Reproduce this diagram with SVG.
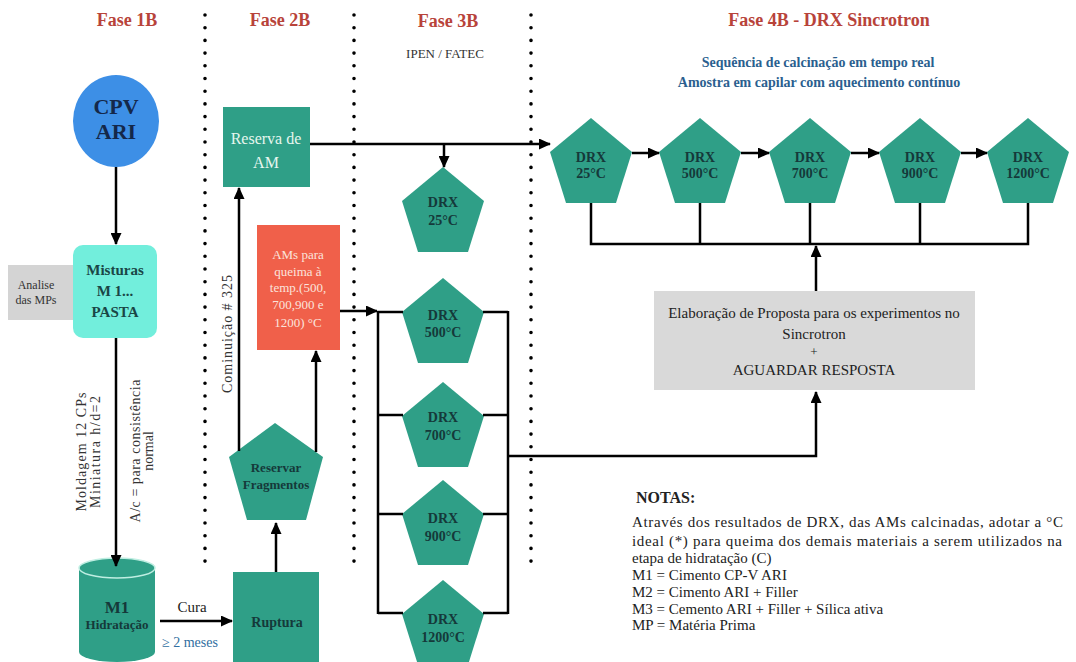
<svg xmlns="http://www.w3.org/2000/svg" width="1076" height="662" viewBox="0 0 1076 662">
<style>
text{font-family:"Liberation Serif","Times New Roman",serif;}
.title{font-size:18px;font-weight:bold;fill:#b8433a;text-anchor:middle;}
.blue{font-size:14px;font-weight:bold;fill:#2b5f8f;text-anchor:middle;}
.drx{font-size:14px;font-weight:bold;fill:#15393a;text-anchor:middle;}
.teal{fill:#2f9f87;}
.ln{stroke:#000;stroke-width:2.5;fill:none;}
.arr{stroke:#000;stroke-width:2.5;fill:none;marker-end:url(#ah);}
.dot{stroke:#000;stroke-width:3.6;stroke-linecap:round;stroke-dasharray:0 12.7;fill:none;}
.note{font-size:15px;fill:#222;}
.rot{font-size:14px;fill:#333;text-anchor:middle;}
</style>
<defs>
<marker id="ah" markerUnits="userSpaceOnUse" markerWidth="12" markerHeight="11" refX="11" refY="5.5" orient="auto">
<path d="M0,0 L12,5.5 L0,11 z" fill="#000"/>
</marker>
<path id="pent" d="M0,0 L41,34 L25,85 L-25,85 L-41,34 z"/>
</defs>
<rect width="1076" height="662" fill="#fff"/>

<g id="titles">
<text class="title" x="127" y="26">Fase 1B</text>
<text class="title" x="280" y="26">Fase 2B</text>
<text class="title" x="448" y="27">Fase 3B</text>
<text x="445" y="58" font-size="13" fill="#333" text-anchor="middle">IPEN / FATEC</text>
<text class="title" x="829" y="26">Fase 4B - DRX Sincrotron</text>
<text class="blue" x="818" y="67">Sequência de calcinação em tempo real</text>
<text class="blue" x="819" y="87">Amostra em capilar com aquecimento contínuo</text>
</g>

<g id="dividers">
<line class="dot" x1="205" y1="15" x2="205" y2="566"/>
<line class="dot" x1="354" y1="15" x2="354" y2="566"/>
<line class="dot" x1="531" y1="15" x2="531" y2="566"/>
</g>

<g id="cpv">
<ellipse cx="116" cy="121" rx="43" ry="46" fill="#3d8fe6"/>
<text x="116" y="114" font-size="22" font-weight="bold" fill="#14284a" text-anchor="middle">CPV</text>
<text x="116" y="139" font-size="22" font-weight="bold" fill="#14284a" text-anchor="middle">ARI</text>
</g>

<g id="analise">
<rect x="8" y="265" width="66" height="55" fill="#d4d4d4"/>
<text x="36" y="289" font-size="12" fill="#333" text-anchor="middle">Analise</text>
<text x="36" y="304" font-size="12" fill="#333" text-anchor="middle">das MPs</text>
</g>

<g id="misturas">
<rect x="73" y="245" width="84" height="93" rx="10" fill="#72eedc"/>
<text x="115" y="275" font-size="15" font-weight="bold" fill="#1a4646" text-anchor="middle">Misturas</text>
<text x="115" y="296" font-size="15" font-weight="bold" fill="#1a4646" text-anchor="middle">M 1...</text>
<text x="115" y="317" font-size="15" font-weight="bold" fill="#1a4646" text-anchor="middle">PASTA</text>
</g>

<g id="labels-left">
<text class="rot" transform="translate(86,452) rotate(-90)" textLength="119" lengthAdjust="spacing">Moldagem 12 CPs</text>
<text class="rot" transform="translate(100,452) rotate(-90)" textLength="112" lengthAdjust="spacing">Miniatura  h/d=2</text>
<text class="rot" transform="translate(140,451) rotate(-90)" textLength="143" lengthAdjust="spacing">A/c = para consistência</text>
<text class="rot" transform="translate(153,451) rotate(-90)">normal</text>
<text class="rot" transform="translate(232,334) rotate(-90)" textLength="118" lengthAdjust="spacing">Cominuição # 325</text>
<text x="192" y="612" font-size="15" fill="#222" text-anchor="middle">Cura</text>
<text x="190" y="647" font-size="14" fill="#2f6ea0" text-anchor="middle">≥ 2 meses</text>
</g>

<g id="m1">
<path d="M79,568 L79,652 A38,10 0 0 0 155,652 L155,568 Z" class="teal"/>
<ellipse cx="117" cy="568" rx="38" ry="10" fill="#2f9f87" stroke="#bfeee2" stroke-width="1.5"/>
<text x="117" y="613" font-size="17" font-weight="bold" fill="#15393a" text-anchor="middle">M1</text>
<text x="117" y="629" font-size="13" font-weight="bold" fill="#15393a" text-anchor="middle">Hidratação</text>
</g>

<g id="ruptura">
<rect x="233" y="572" width="86" height="92" class="teal"/>
<text x="277" y="627" font-size="14" font-weight="bold" fill="#15393a" text-anchor="middle">Ruptura</text>
</g>

<g id="reservar">
<path d="M275,423 L323,457 L306,520 L247,520 L229,457 Z" class="teal"/>
<text x="276" y="472" font-size="13" font-weight="bold" fill="#15393a" text-anchor="middle">Reservar</text>
<text x="276" y="489" font-size="13" font-weight="bold" fill="#15393a" text-anchor="middle">Fragmentos</text>
</g>

<g id="reserva-am">
<rect x="223" y="107" width="87" height="80" class="teal"/>
<text x="266" y="144" font-size="16" fill="#e6f6ee" text-anchor="middle">Reserva de</text>
<text x="266" y="168" font-size="16" fill="#e6f6ee" text-anchor="middle">AM</text>
</g>

<g id="ams">
<rect x="257" y="225" width="83" height="125" fill="#f0604a"/>
<g font-size="13" fill="#fbe3dc" text-anchor="middle">
<text x="298" y="259">AMs para</text>
<text x="298" y="276">queima à</text>
<text x="298" y="292">temp.(500,</text>
<text x="298" y="309">700,900 e</text>
<text x="298" y="327">1200) °C</text>
</g>
</g>

<g id="drx3-25"><use href="#pent" x="443" y="167" class="teal"/><text class="drx" x="443" y="207">DRX</text><text class="drx" x="443" y="225">25°C</text></g>
<g id="drx3-500"><use href="#pent" x="443" y="278" class="teal"/><text class="drx" x="443" y="320">DRX</text><text class="drx" x="443" y="337">500°C</text></g>
<g id="drx3-700"><use href="#pent" x="443" y="382" class="teal"/><text class="drx" x="443" y="422">DRX</text><text class="drx" x="443" y="440">700°C</text></g>
<g id="drx3-900"><use href="#pent" x="443" y="480" class="teal"/><text class="drx" x="443" y="523">DRX</text><text class="drx" x="443" y="541">900°C</text></g>
<g id="drx3-1200"><use href="#pent" x="443" y="580" class="teal"/><text class="drx" x="443" y="624">DRX</text><text class="drx" x="443" y="642">1200°C</text></g>

<g id="drx4-25"><use href="#pent" x="591" y="118" class="teal"/><text class="drx" x="591" y="162">DRX</text><text class="drx" x="591" y="178">25°C</text></g>
<g id="drx4-500"><use href="#pent" x="700" y="118" class="teal"/><text class="drx" x="700" y="162">DRX</text><text class="drx" x="700" y="178">500°C</text></g>
<g id="drx4-700"><use href="#pent" x="810" y="118" class="teal"/><text class="drx" x="810" y="162">DRX</text><text class="drx" x="810" y="178">700°C</text></g>
<g id="drx4-900"><use href="#pent" x="920" y="118" class="teal"/><text class="drx" x="920" y="162">DRX</text><text class="drx" x="920" y="178">900°C</text></g>
<g id="drx4-1200"><use href="#pent" x="1028" y="118" class="teal"/><text class="drx" x="1028" y="162">DRX</text><text class="drx" x="1028" y="178">1200°C</text></g>

<g id="proposta">
<rect x="654" y="291" width="321" height="99" fill="#d9d9d9"/>
<g font-size="15" fill="#222" text-anchor="middle">
<text x="814" y="318">Elaboração de Proposta para os experimentos no</text>
<text x="814" y="339">Sincrotron</text>
<text x="814" y="356" font-size="13">+</text>
<text x="814" y="375">AGUARDAR RESPOSTA</text>
</g>
</g>

<g id="notas">
<text x="636" y="503" font-size="16" font-weight="bold" fill="#222">NOTAS:</text>
<text class="note" x="632" y="527" textLength="431" lengthAdjust="spacing">Através dos resultados de DRX, das AMs calcinadas, adotar a °C</text>
<text class="note" x="632" y="546" textLength="430" lengthAdjust="spacing">ideal (*) para queima dos demais materiais a serem utilizados na</text>
<text class="note" x="632" y="563">etapa de hidratação (C)</text>
<text class="note" x="632" y="580">M1 = Cimento CP-V ARI</text>
<text class="note" x="632" y="597">M2 = Cimento ARI + Filler</text>
<text class="note" x="632" y="614">M3 = Cemento ARI + Filler + Sílica ativa</text>
<text class="note" x="632" y="630">MP = Matéria Prima</text>
</g>

<g id="connectors">
<line class="arr" x1="116" y1="167" x2="116" y2="244"/>
<line class="arr" x1="116" y1="338" x2="116" y2="566"/>
<line class="arr" x1="160" y1="621" x2="232" y2="621"/>
<line class="arr" x1="276" y1="572" x2="276" y2="523"/>
<line class="arr" x1="239" y1="451" x2="239" y2="188"/>
<line class="arr" x1="316" y1="452" x2="316" y2="351"/>
<line class="arr" x1="310" y1="144" x2="550" y2="144"/>
<line class="arr" x1="444" y1="144" x2="444" y2="167"/>
<line class="arr" x1="340" y1="311" x2="377" y2="311"/>
<polyline class="ln" points="378,311 378,614"/>
<polyline class="ln" points="508,311 508,614"/>
<line class="ln" x1="378" y1="312" x2="403" y2="312"/>
<line class="ln" x1="483" y1="312" x2="508" y2="312"/>
<line class="ln" x1="378" y1="415" x2="403" y2="415"/>
<line class="ln" x1="483" y1="415" x2="508" y2="415"/>
<line class="ln" x1="378" y1="514" x2="403" y2="514"/>
<line class="ln" x1="483" y1="514" x2="508" y2="514"/>
<line class="ln" x1="378" y1="613" x2="403" y2="613"/>
<line class="ln" x1="483" y1="613" x2="508" y2="613"/>
<polyline class="arr" points="508,456 816,456 816,392"/>
<line class="arr" x1="632" y1="153" x2="659" y2="153"/>
<line class="arr" x1="741" y1="153" x2="769" y2="153"/>
<line class="arr" x1="851" y1="153" x2="879" y2="153"/>
<line class="arr" x1="961" y1="153" x2="987" y2="153"/>
<polyline class="ln" points="591,203 591,244 1028,244 1028,203"/>
<line class="ln" x1="700" y1="203" x2="700" y2="244"/>
<line class="ln" x1="810" y1="203" x2="810" y2="244"/>
<line class="ln" x1="920" y1="203" x2="920" y2="244"/>
<line class="arr" x1="816" y1="291" x2="816" y2="246"/>
</g>
</svg>
